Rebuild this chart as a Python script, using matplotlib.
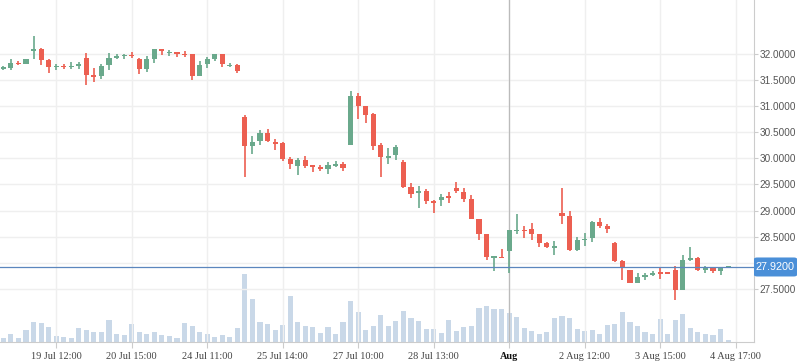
import matplotlib
matplotlib.use("Agg")
import matplotlib.pyplot as plt
from matplotlib.patches import FancyBboxPatch
import numpy as np

# OHLC per candle
opens = [31.73, 31.74, 31.83, 31.81, 32.05, 32.10, 31.88, 31.76, 31.78, 31.76,
         31.77, 31.92, 31.60, 31.58, 31.78, 31.93, 31.97, 31.99, 31.90, 31.71,
         31.90, 32.10, 32.03, 32.04, 32.01, 32.00, 31.58, 31.80, 31.91, 32.00,
         31.78, 31.79, 30.79, 30.24, 30.33, 30.48, 30.32, 30.29, 29.98, 29.85,
         29.96, 29.87, 29.83, 29.80, 29.87, 29.90, 30.25, 31.19, 31.00, 30.85,
         30.25, 30.03, 30.06, 29.94, 29.46, 29.33, 29.38, 29.18, 29.20, 29.29,
         29.43, 29.35, 29.22, 28.83, 28.55, 28.11, 28.12, 28.22, 28.62, 28.64,
         28.64, 28.55, 28.37, 28.30, 28.95, 28.89, 28.25, 28.45, 28.47, 28.78,
         28.70, 28.37, 28.03, 27.87, 27.61, 27.72, 27.76, 27.81, 27.81, 27.86,
         27.47, 28.06, 28.10, 27.86, 27.90, 27.84, 27.92]
highs = [31.77, 31.90, 31.87, 31.90, 32.35, 32.12, 31.90, 31.80, 31.81, 31.85,
         31.84, 32.01, 31.73, 31.80, 32.01, 32.00, 32.00, 32.04, 31.92, 31.96,
         32.10, 32.10, 32.08, 32.04, 32.05, 32.00, 31.87, 31.95, 32.00, 32.00,
         31.83, 31.81, 30.83, 30.42, 30.54, 30.56, 30.37, 30.31, 30.02, 30.00,
         30.04, 29.87, 29.87, 29.94, 29.95, 29.94, 31.29, 31.25, 31.00, 30.87,
         30.29, 30.19, 30.25, 29.96, 29.52, 29.48, 29.42, 29.21, 29.31, 29.35,
         29.54, 29.43, 29.29, 28.83, 28.55, 28.12, 28.26, 28.62, 28.93, 28.70,
         28.76, 28.56, 28.39, 28.41, 29.44, 28.99, 28.50, 28.57, 28.80, 28.85,
         28.74, 28.40, 28.06, 27.87, 27.80, 27.80, 27.85, 27.92, 27.81, 27.94,
         28.15, 28.30, 28.12, 27.93, 27.90, 27.90, 27.92]
lows = [31.69, 31.70, 31.79, 31.80, 31.90, 31.79, 31.64, 31.70, 31.72, 31.72,
        31.72, 31.40, 31.46, 31.52, 31.69, 31.90, 31.90, 31.93, 31.62, 31.65,
        31.83, 31.99, 31.97, 31.94, 31.95, 31.50, 31.58, 31.74, 31.87, 31.76,
        31.76, 31.64, 29.64, 30.08, 30.26, 30.31, 30.16, 29.95, 29.80, 29.68,
        29.81, 29.74, 29.75, 29.70, 29.83, 29.76, 30.25, 30.75, 30.67, 30.17,
        29.65, 29.89, 29.96, 29.44, 29.25, 29.05, 29.13, 28.96, 29.09, 29.15,
        29.33, 29.17, 28.83, 28.43, 28.05, 27.85, 28.09, 27.81, 28.55, 28.47,
        28.43, 28.31, 28.29, 28.14, 28.74, 28.23, 28.22, 28.32, 28.40, 28.66,
        28.58, 28.01, 27.68, 27.61, 27.61, 27.67, 27.75, 27.69, 27.80, 27.28,
        27.47, 28.03, 27.84, 27.80, 27.80, 27.76, 27.92]
closes = [31.75, 31.83, 31.82, 31.90, 32.10, 31.89, 31.76, 31.78, 31.76, 31.78,
          31.81, 31.60, 31.58, 31.77, 31.92, 31.97, 31.98, 31.97, 31.71, 31.90,
          32.10, 32.05, 32.05, 32.00, 31.99, 31.58, 31.79, 31.90, 32.00, 31.80,
          31.80, 31.68, 30.24, 30.31, 30.48, 30.33, 30.30, 29.99, 29.89, 29.96,
          29.85, 29.83, 29.79, 29.87, 29.90, 29.81, 31.19, 31.01, 30.83, 30.24,
          30.02, 30.05, 30.21, 29.46, 29.32, 29.38, 29.18, 29.16, 29.27, 29.26,
          29.37, 29.22, 28.83, 28.55, 28.12, 28.12, 28.10, 28.62, 28.64, 28.62,
          28.55, 28.37, 28.30, 28.31, 28.89, 28.25, 28.44, 28.47, 28.78, 28.70,
          28.64, 28.03, 27.90, 27.61, 27.72, 27.76, 27.81, 27.80, 27.80, 27.47,
          28.06, 28.10, 27.86, 27.91, 27.84, 27.90, 27.92]
volumes = [4, 8, 4, 12, 20, 19, 15, 6, 5, 4, 14, 12, 10, 10, 22, 8, 7, 18, 10, 8,
           10, 7, 6, 4, 19, 16, 10, 8, 5, 7, 5, 14, 68, 43, 20, 18, 12, 17, 46, 20,
           16, 15, 9, 15, 8, 20, 41, 30, 12, 16, 27, 16, 21, 31, 24, 21, 13, 13, 9, 22,
           11, 15, 16, 34, 36, 33, 33, 29, 25, 14, 11, 8, 10, 24, 26, 24, 13, 11, 12, 8,
           17, 18, 30, 20, 16, 10, 8, 23, 8, 22, 28, 14, 10, 8, 7, 13, 2]

tick_pos = [7, 17, 27, 37, 47, 57, 67, 77, 87, 97]
tick_labels = ["19 Jul 12:00", "20 Jul 15:00", "24 Jul 11:00", "25 Jul 14:00",
               "27 Jul 10:00", "28 Jul 13:00", "Aug", "2 Aug 12:00",
               "3 Aug 15:00", "4 Aug 17:00"]
price_ticks = [27.5, 28.0, 28.5, 29.0, 29.5, 30.0, 30.5, 31.0, 31.5, 32.0]
last_price = 27.92

GREEN = "#6aa98c"
RED = "#ec5f51"

fig = plt.figure(figsize=(7.98, 3.63), dpi=100)
W, H = 798, 363
ax = fig.add_axes([0, 21 / H, 754 / W, 342 / H])
vax = ax.twinx()

x = np.arange(len(opens))
o = np.array(opens); c = np.array(closes)
hi = np.array(highs); lo = np.array(lows)
up = c >= o
cols = np.where(up, GREEN, RED)

# volume underneath
vax.bar(x, volumes, width=0.68, color="#c3d4e6", alpha=0.9, zorder=1)
vax.set_ylim(0, 342)
vax.set_yticks([])
vax.set_zorder(0)
ax.set_zorder(1)
ax.patch.set_visible(False)
for s in vax.spines.values():
    s.set_visible(False)

# candles
ax.vlines(x, lo, hi, colors=cols, linewidth=1.2, zorder=3)
flat = np.abs(c - o) < 0.03
height = np.where(flat, 0.03, np.abs(c - o))
bottom = np.minimum(o, c) - np.where(flat, 0.015, 0)
ax.bar(x, height, bottom=bottom, width=0.68, color=cols, zorder=4, linewidth=0)

ax.set_xlim(-0.44, 99.43)
ax.set_ylim(26.483, 33.034)

ax.set_yticks(price_ticks)
ax.set_yticklabels(["" if abs(p - 28.0) < 1e-9 else f"{p:.4f}" for p in price_ticks],
                   fontsize=7.2, color="#555555", family="Liberation Sans")
ax.yaxis.tick_right()
ax.tick_params(axis="y", length=3, color="#cccccc", pad=1)

ax.set_xticks(tick_pos)
ax.set_xticklabels(tick_labels, fontsize=7.4, color="#444444", family="Liberation Serif")
for lab in ax.get_xticklabels():
    if lab.get_text() == "Aug":
        lab.set_color("#111111")
        lab.set_fontweight("bold")
ax.tick_params(axis="x", length=4, color="#cccccc", pad=3)

ax.grid(True, color="#efefef", linewidth=1, zorder=0)
ax.set_axisbelow(True)
for side in ["top", "left"]:
    ax.spines[side].set_visible(False)
ax.spines["right"].set_color("#cccccc")
ax.spines["bottom"].set_color("#cccccc")

# crosshair and last price line
ax.axvline(67, color="#bbbbbb", linewidth=0.9, zorder=2)
ax.axhline(last_price, color="#5b86bd", linewidth=0.9, zorder=5)

# last price label box on the right axis
yl = ax.transData.transform((0, last_price))[1]
fy = fig.transFigure.inverted().transform((0, yl))[1]
bw, bh = 43 / W, 19 / H
box = FancyBboxPatch((754 / W, fy - bh / 2), bw, bh, transform=fig.transFigure,
                     boxstyle="round,pad=0,rounding_size=0.004",
                     fc="#4a8fd8", ec="none", zorder=10)
fig.patches.append(box)
fig.text(754 / W + bw / 2, fy, f"{last_price:.4f}", ha="center", va="center",
         fontsize=7.8, color="white", family="Liberation Sans", zorder=11)

fig.savefig("out.png", dpi=100)
